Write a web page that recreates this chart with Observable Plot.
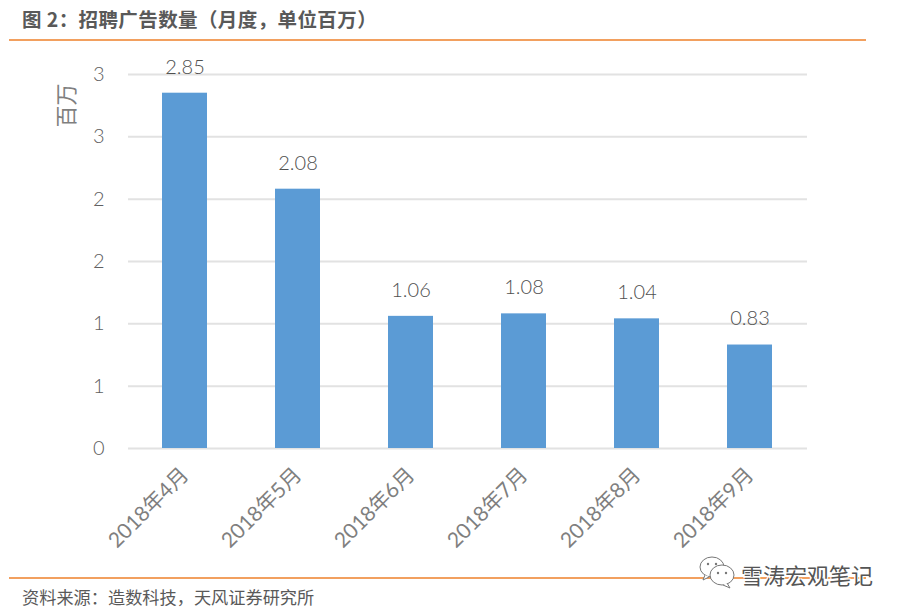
<!DOCTYPE html>
<html><head><meta charset="utf-8">
<script src="https://cdn.jsdelivr.net/npm/d3@7"></script>
<script src="https://cdn.jsdelivr.net/npm/@observablehq/plot@0.6"></script>
<style>
html,body{margin:0;padding:0;background:#fff;width:902px;height:614px;overflow:hidden}
body{position:relative;font-family:"Noto Sans CJK SC",sans-serif}
#head{height:41px;box-sizing:border-box;width:857px;margin-left:9px;border-bottom:2px solid #f2a05f;padding-left:13px;font-size:19.5px;letter-spacing:.4px;font-weight:700;color:#595959;line-height:37px;white-space:nowrap}
#chart svg{display:block}
#foot{width:857px;margin-left:9px;border-top:2px solid #f2a05f;padding-left:13px;box-sizing:border-box;font-size:17.2px;color:#595959;line-height:35px;white-space:nowrap}
#mark{position:absolute;left:741px;top:557px;font-size:22px;line-height:34px;color:#555;white-space:nowrap;text-shadow:1px 1px 0 #fff,-1px -1px 0 #fff,1px -1px 0 #fff,-1px 1px 0 #fff}
#icon{position:absolute;left:698px;top:556px}
</style></head><body>
<div id="head">图 2：招聘广告数量（月度，单位百万）</div>
<div id="chart"></div>
<div id="foot">资料来源：造数科技，天风证券研究所</div>
<svg id="icon" width="38" height="34" viewBox="0 0 38 34">
<ellipse cx="14" cy="11" rx="12" ry="10" fill="#fff" stroke="#777" stroke-width="1"/>
<path d="M7 19l-2 5 6-3" fill="#fff" stroke="#777" stroke-width="1"/>
<circle cx="10" cy="8" r="1.2" fill="#777"/><circle cx="18" cy="8" r="1.2" fill="#777"/>
<ellipse cx="24" cy="19" rx="12" ry="10" fill="#fff" stroke="#777" stroke-width="1"/>
<path d="M29 27l3 5-7-3" fill="#fff" stroke="#777" stroke-width="1"/>
<circle cx="20" cy="17" r="1.2" fill="#777"/><circle cx="28" cy="17" r="1.2" fill="#777"/>
</svg>
<div id="mark">雪涛宏观笔记</div>
<script>
const months = ["2018年4月","2018年5月","2018年6月","2018年7月","2018年8月","2018年9月"];
const values = [2.85,2.08,1.06,1.08,1.04,0.83];
const yTicks = [0,0.5,1,1.5,2,2.5,3];
const yTickLabels = ["0","1","1","2","2","3","3"];
const unitLabel = ["百万"];
const rows = months.map((m,i)=>({month:m,value:values[i]}));
const grey = "#7f7f7f";
const font = "Lato,'Noto Sans CJK SC',sans-serif";
const chart = Plot.plot({
  width:902,height:536,
  marginTop:33,marginBottom:129,marginLeft:128,marginRight:95,
  style:{fontFamily:font,background:"transparent"},
  x:{domain:months,paddingInner:0.6,paddingOuter:0.3,label:null},
  y:{domain:[0,3],label:null},
  marks:[
    Plot.ruleY(yTicks,{stroke:"#e2e2e2",strokeWidth:2}),
    Plot.barY(rows,{x:"month",y:"value",fill:"#5b9bd5"}),
    Plot.text(rows,{x:"month",y:"value",text:d=>d.value.toFixed(2),dy:-26,fontSize:20,fontWeight:300,fill:"#505050"}),
    Plot.axisY({ticks:yTicks,tickFormat:(d,i)=>yTickLabels[i],tickSize:0,tickPadding:24,fontSize:20,fontWeight:300,color:"#606060",label:null}),
    Plot.axisX({tickSize:0,tickRotate:-45,textAnchor:"end",tickPadding:23,fontSize:21,fontWeight:400,color:grey,label:null}),
    Plot.text(unitLabel,{frameAnchor:"top-left",rotate:-90,dx:-70,dy:53,fontSize:22,fill:grey})
  ]
});
document.getElementById("chart").appendChild(chart);
</script>
</body></html>
